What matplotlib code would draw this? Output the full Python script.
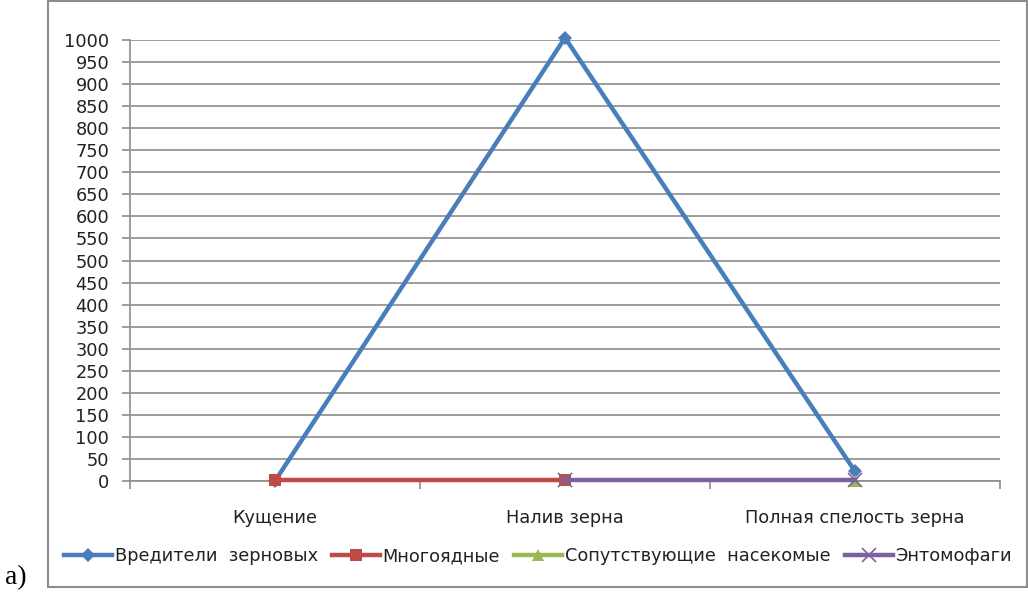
import numpy as np
import matplotlib.pyplot as plt
from matplotlib.patches import Rectangle

categories = ["Кущение", "Налив зерна", "Полная спелость зерна"]
series_names = ["Вредители  зерновых", "Многоядные", "Сопутствующие  насекомые", "Энтомофаги"]
pests = [0, 1005, 22]
polyphagous = [2, 2, np.nan]
accompanying = [np.nan, np.nan, 0]
entomophages = [np.nan, 3, 3]
y_ticks = list(range(0, 1001, 50))

colors = ["#4a7ebb", "#be4b48", "#98b954", "#7d60a0"]
markers = ["D", "s", "^", "x"]


def main() -> None:
    plt.rcParams["font.family"] = ["DejaVu Sans"]
    fs = 12.8
    fig = plt.figure(figsize=(10.28, 5.93), dpi=100)
    ax = fig.add_axes([130 / 1028, 1 - 481 / 593, 870 / 1028, 441 / 593])

    x = np.arange(len(categories)) + 0.5
    data = [pests, polyphagous, accompanying, entomophages]
    handles = []
    for vals, name, c, m in zip(data, series_names, colors, markers):
        ms = {"D": 7, "s": 9, "^": 9, "x": 10}[m]
        (h,) = ax.plot(x, vals, color=c, lw=3.2, marker=m, ms=ms,
                       mew=1.2 if m == "x" else 0, mec=c, label=name, clip_on=False,
                       zorder=3)
        handles.append(h)

    ax.set_xlim(0, len(categories))
    ax.set_ylim(0, 1000)
    ax.set_yticks(y_ticks)
    ax.set_yticklabels([str(t) for t in y_ticks], fontsize=fs, color="#222222")
    ax.yaxis.grid(True, color="#8c8c8c", lw=1.2)
    ax.set_axisbelow(True)

    ax.set_xticks(np.arange(len(categories) + 1))
    ax.set_xticklabels([])
    ax.set_xticks(x, minor=True)
    ax.set_xticklabels(categories, minor=True, fontsize=fs, color="#222222")
    ax.tick_params(axis="x", which="minor", length=0, pad=20)
    ax.tick_params(axis="x", which="major", length=6, color="#8c8c8c", width=1.2)
    ax.tick_params(axis="y", length=6, color="#8c8c8c", width=1.2, pad=9)

    for side in ["top", "right"]:
        ax.spines[side].set_visible(False)
    for side in ["left", "bottom"]:
        ax.spines[side].set_color("#8c8c8c")
        ax.spines[side].set_linewidth(1.2)

    leg = fig.legend(handles=handles, loc="center", bbox_to_anchor=(538 / 1028, 1 - 556 / 593),
                     ncol=4, frameon=False, fontsize=fs, handlelength=2.7,
                     handletextpad=0.15, columnspacing=0.8)
    for t in leg.get_texts():
        t.set_color("#222222")

    fig.patches.append(Rectangle((48 / 1028, 1 - 587 / 593), 979 / 1028, 586 / 593,
                                 transform=fig.transFigure, fill=False,
                                 edgecolor="#8c8c8c", lw=1.5))
    fig.text(5 / 1028, 1 - 578 / 593, "а)", fontsize=20, family="Liberation Serif",
             va="center", ha="left")

    fig.savefig("out.png", dpi=100)


if __name__ == "__main__":
    main()
